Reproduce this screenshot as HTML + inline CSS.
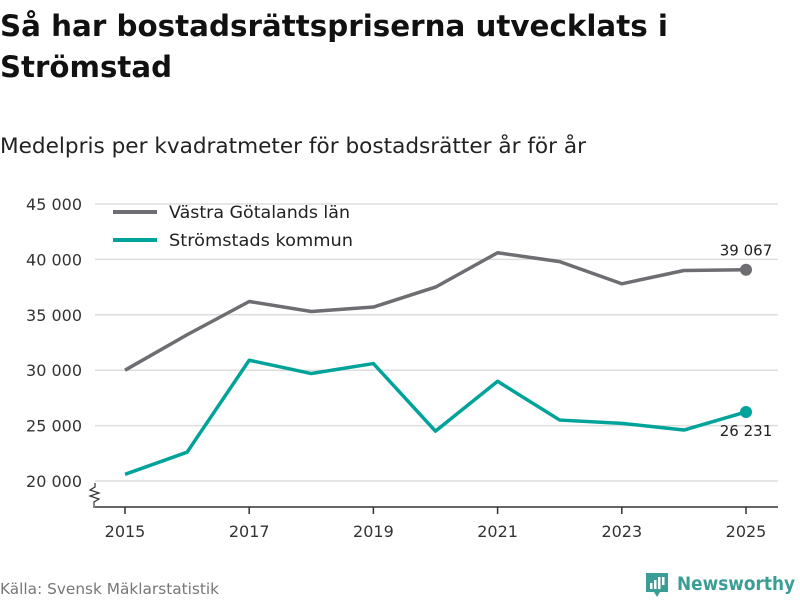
<!DOCTYPE html>
<html><head><meta charset="utf-8"><style>
body{margin:0;background:#fff;width:800px;height:600px;overflow:hidden;font-family:"Liberation Sans","DejaVu Sans",sans-serif;}
svg text{font-family:"DejaVu Sans","Liberation Sans",sans-serif;}
</style></head><body>
<svg width="800" height="600">
<text x="0" y="36" font-size="29" font-weight="bold" fill="#111" textLength="668" lengthAdjust="spacingAndGlyphs">Så har bostadsrättspriserna utvecklats i</text>
<text x="0" y="77" font-size="29" font-weight="bold" fill="#111" textLength="172" lengthAdjust="spacingAndGlyphs">Strömstad</text>
<text x="0" y="153" font-size="21" fill="#222" textLength="586" lengthAdjust="spacingAndGlyphs">Medelpris per kvadratmeter för bostadsrätter år för år</text>
<g id="grid"></g><g id="axes"></g><g id="series"></g>
<path d="M95,483 l0,4 l-5,3 l9,3 l-9,3 l9,3 l-5,3 l0,6" fill="none" stroke="#333" stroke-width="1.2"/>
<line x1="113" y1="212" x2="157" y2="212" stroke="#6e6d72" stroke-width="4"/>
<text x="169" y="218" font-size="17" fill="#222" textLength="181" lengthAdjust="spacingAndGlyphs">Västra Götalands län</text>
<line x1="113" y1="240" x2="157" y2="240" stroke="#00a39a" stroke-width="4"/>
<text x="169" y="246" font-size="17" fill="#222" textLength="184" lengthAdjust="spacingAndGlyphs">Strömstads kommun</text>
<text x="0" y="594" font-size="15" fill="#777" textLength="219" lengthAdjust="spacingAndGlyphs">Källa: Svensk Mäklarstatistik</text>
<g>
<path d="M646,573 h22 v19 h-8 l-3,5 l-3,-5 h-8 z" fill="#3a9e96"/>
<rect x="650" y="583" width="2.5" height="6" fill="#fff"/><rect x="654" y="580" width="2.5" height="9" fill="#fff"/><rect x="658" y="577" width="2.5" height="12" fill="#fff"/><rect x="662" y="577" width="2.5" height="8" fill="#fff"/>
<text x="677" y="590" font-size="19" fill="#3a9e96" font-weight="bold" textLength="118" lengthAdjust="spacingAndGlyphs">Newsworthy</text>
</g>
</svg>
<script>
const years=[2015,2016,2017,2018,2019,2020,2021,2022,2023,2024,2025];
const vastra=[30000,33200,36200,35300,35700,37500,40600,39800,37800,39000,39067];
const stromstad=[20600,22600,30900,29700,30600,24500,29000,25500,25200,24600,26231];
const yTicks=[20000,25000,30000,35000,40000,45000];
const xTicks=[2015,2017,2019,2021,2023,2025];
const endLabels=["39 067","26 231"];
const NS="http://www.w3.org/2000/svg";
const x=v=>125+(v-2015)*62.1;
const y=v=>481-(v-20000)*(277/25000);
function mk(t,a,p){const e=document.createElementNS(NS,t);for(const k in a)e.setAttribute(k,a[k]);p.appendChild(e);return e;}
const fmt=v=>String(v).replace(/\B(?=(\d{3})+$)/g," ");
const G=document.getElementById('grid'),A=document.getElementById('axes'),S=document.getElementById('series');
yTicks.forEach(v=>{
 const l=mk('line',{x1:95,x2:778,y1:y(v),y2:y(v),stroke:'#ddd','stroke-width':1.5},G);
 
 
 const t=mk('text',{x:82,y:y(v)+6,'text-anchor':'end','font-size':16,fill:'#333'},G);t.textContent=fmt(v);
 
 
});
const ax=mk('line',{x1:95,x2:778,y1:507,y2:507,stroke:'#333','stroke-width':1.5},A);


xTicks.forEach(v=>{
 const tk=mk('line',{x1:x(v),x2:x(v),y1:507,y2:514,stroke:'#333','stroke-width':1.5},A);
 
 
 const t=mk('text',{x:x(v),y:537,'text-anchor':'middle','font-size':16,fill:'#333'},A);t.textContent=v;
 
 
});
[[vastra,'#6e6d72','vastra-line',-14],[stromstad,'#00a39a','stromstad-line',24]].forEach((s,i)=>{
 const d=s[0].map((v,j)=>(j?'L':'M')+x(years[j])+','+y(v)).join(' ');
 const p=mk('path',{d,fill:'none',stroke:s[1],'stroke-width':3.5,'stroke-linejoin':'round'},S);
 
 
 const n=s[0].length-1;
 const c=mk('circle',{cx:x(years[n]),cy:y(s[0][n]),r:6,fill:s[1]},S);
 
 
 const t=mk('text',{x:x(years[n]),y:y(s[0][n])+s[3],'text-anchor':'middle','font-size':15,fill:'#222'},S);
 t.textContent=endLabels[i];
 
 
});
</script>
</body></html>
